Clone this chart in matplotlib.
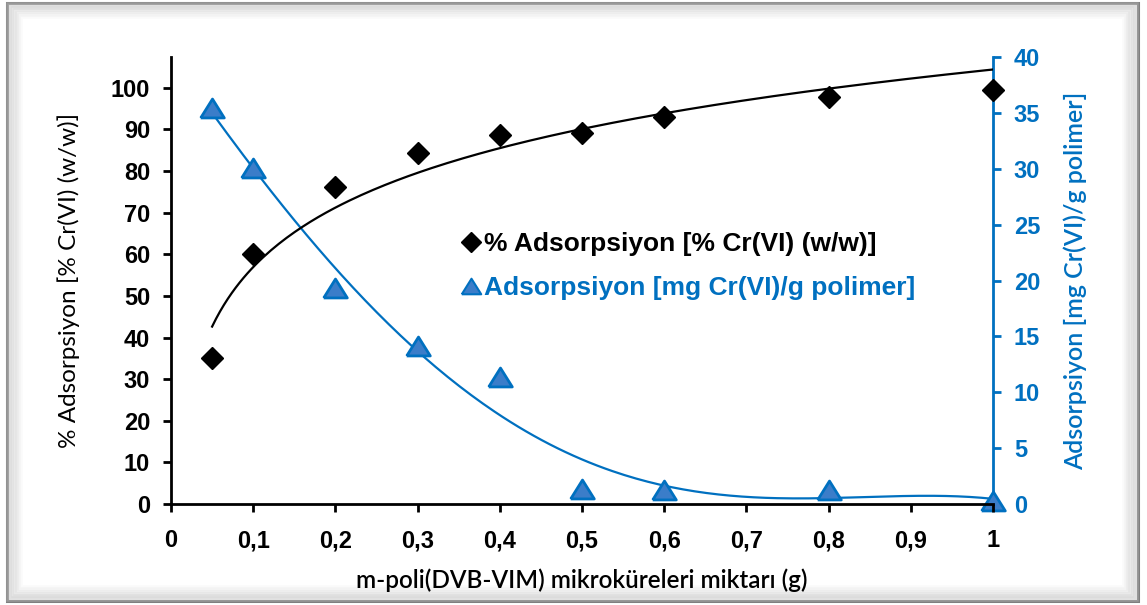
import matplotlib
matplotlib.use('agg')

import numpy as np
import matplotlib.pyplot as plt
from matplotlib.lines import Line2D
from matplotlib.patches import Rectangle

# polimer miktari (g)
miktar = [0.05, 0.1, 0.2, 0.3, 0.4, 0.5, 0.6, 0.8, 1.0]
# % adsorpsiyon [% Cr(VI) (w/w)]
yuzde = [35.1, 60.1, 76.2, 84.4, 88.7, 89.2, 93.0, 97.8, 99.5]
# adsorpsiyon [mg Cr(VI)/g polimer]
kapasite = [35.4, 30.1, 19.3, 14.1, 11.4, 1.3, 1.25, 1.25, 0.3]

x_ticks = [0, 0.1, 0.2, 0.3, 0.4, 0.5, 0.6, 0.7, 0.8, 0.9, 1.0]
x_labels = ['0', '0,1', '0,2', '0,3', '0,4', '0,5', '0,6', '0,7', '0,8', '0,9', '1']

blue = '#0070C0'
bold_font = 'Liberation Sans'
label_font = 'Lato'

fig = plt.figure(figsize=(11.47, 6.05), dpi=100)

# chart box with a faint inner shading
fig.patches.append(Rectangle((0.0061, 0.0066), 0.9861, 0.9884, transform=fig.transFigure,
                             facecolor='white', edgecolor='#7f7f7f', linewidth=2.2, zorder=-3))
for i in range(6):
  d = 0.0035 * (i + 1)
  fig.patches.append(Rectangle((0.0061 + d * 0.55, 0.0066 + d), 0.9861 - d * 1.1, 0.9884 - 2 * d,
                               transform=fig.transFigure, facecolor='none',
                               edgecolor='#c8c8c8', alpha=0.35 - i * 0.055, linewidth=4, zorder=-2))

ax = fig.add_axes([0.1491, 0.1669, 0.8657 - 0.1491, 0.9058 - 0.1669])
ax2 = ax.twinx()
ax.set_zorder(ax2.get_zorder() + 1)
ax.patch.set_visible(False)

x = np.array(miktar)
xs = np.linspace(0.05, 1.0, 200)

# logarithmic trend for % adsorption
a, b = np.polyfit(np.log(x), np.array(yuzde), 1)
ax.plot(xs, a * np.log(xs) + b, color='black', lw=1.6, zorder=2)
ax.plot(miktar, yuzde, ls='none', marker='D', ms=11, color='black', zorder=3, clip_on=False)

# 4th order polynomial trend for capacity
p = np.polyfit(x, np.array(kapasite), 4)
ax2.plot(xs, np.polyval(p, xs), color=blue, lw=1.6, zorder=2)
tri = [(-1, -0.8), (1, -0.8), (0, 0.8), (-1, -0.8)]
ax2.plot(miktar, kapasite, ls='none', marker=tri, ms=17, markerfacecolor='#3b7dc9',
         markeredgecolor=blue, markeredgewidth=2, zorder=3, clip_on=False)

ax.set_xlim(0, 1.0)
ax.set_ylim(0, 107.4)
ax2.set_ylim(0, 40)
ax.set_xticks(x_ticks)
ax.set_xticklabels(x_labels)
ax.set_yticks(range(0, 101, 10))
ax2.set_yticks(range(0, 41, 5))

for s in ['top', 'right']:
  ax.spines[s].set_visible(False)
for s in ['top', 'left', 'bottom']:
  ax2.spines[s].set_visible(False)
ax.spines['left'].set_linewidth(2)
ax.spines['bottom'].set_linewidth(2)
ax2.spines['right'].set_linewidth(2)
ax2.spines['right'].set_color(blue)

ax.tick_params(axis='both', direction='out', length=6, width=2, labelsize=17, pad=9)
ax.tick_params(axis='x', pad=12)
ax2.tick_params(axis='y', direction='out', length=6, width=2, labelsize=17, pad=9,
                color=blue, labelcolor=blue)
for lab in ax.get_xticklabels() + ax.get_yticklabels() + ax2.get_yticklabels():
  lab.set_fontweight('bold')
  lab.set_family(bold_font)

ax.set_xlabel('m-poli(DVB-VIM) mikroküreleri miktarı (g)', fontsize=17.5, family=label_font,
              fontweight='semibold', labelpad=12)
ax.set_ylabel('% Adsorpsiyon [% Cr(VI) (w/w)]', fontsize=17.5, family=label_font, labelpad=22)
ax2.set_ylabel('Adsorpsiyon [mg Cr(VI)/g polimer]', fontsize=18, family=label_font,
               fontweight='semibold', color=blue, labelpad=17)

handles = [
  Line2D([], [], ls='none', marker='D', ms=10, color='black'),
  Line2D([], [], ls='none', marker=tri, ms=14, markerfacecolor='#3b7dc9',
         markeredgecolor=blue, markeredgewidth=1.5),
]
leg = fig.legend(handles, ['% Adsorpsiyon [% Cr(VI) (w/w)]', 'Adsorpsiyon [mg Cr(VI)/g polimer]'],
                 loc='center left', bbox_to_anchor=(450 / 1147, 1 - 266 / 605), frameon=False,
                 handlelength=0.6, handletextpad=0.2, labelspacing=0.75, borderpad=0,
                 prop={'family': bold_font, 'weight': 'bold', 'size': 19})
leg.get_texts()[1].set_color(blue)

fig.savefig('out.png', dpi=100)
